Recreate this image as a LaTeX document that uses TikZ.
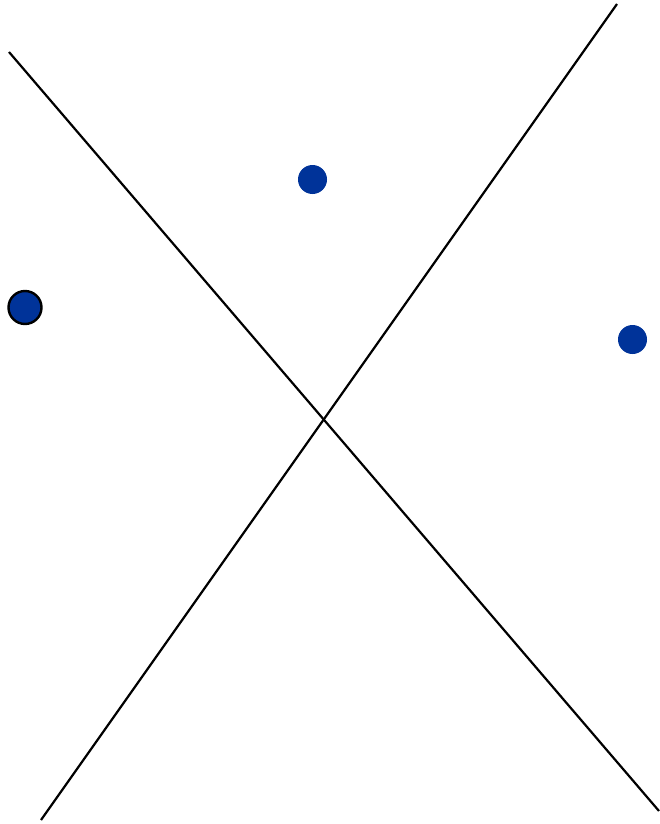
\documentclass[tikz,border=0pt]{standalone}
\begin{document}
\begin{tikzpicture}[x=1pt,y=-1pt,
  ln/.style={line width=2.2pt,black},
  dot/.style={circle,fill={rgb,255:red,0;green,51;blue,153},inner sep=0pt,minimum size=29pt},
  odot/.style={dot,draw=black,line width=2.4pt,minimum size=33pt}]
\useasboundingbox (0,0) rectangle (660,824);
\coordinate (a1) at (9,52);
\coordinate (a2) at (659,811);
\coordinate (b1) at (617,4);
\coordinate (b2) at (41,820);
\draw[ln] (a1) -- (a2);
\draw[ln] (b1) -- (b2);
\node[dot] (p1) at (312.5,179.5) {};
\node[dot] (p2) at (632.5,339.5) {};
\node[odot] (p3) at (25,307.5) {};
\end{tikzpicture}
\end{document}
